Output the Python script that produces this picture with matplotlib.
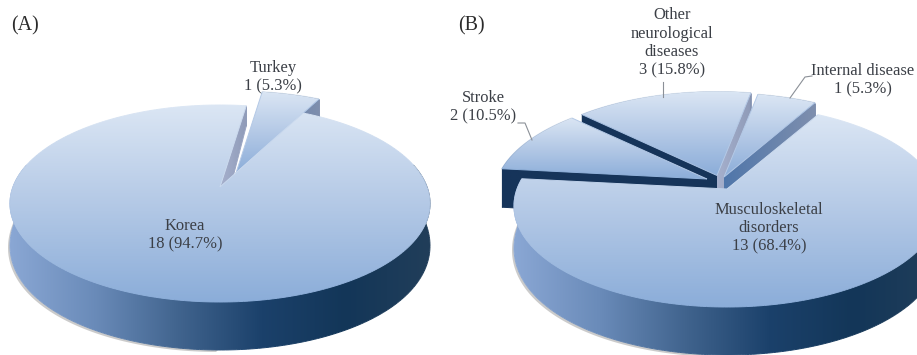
# -*- coding: utf-8 -*-
import numpy as np
import matplotlib
matplotlib.use("Agg")
import matplotlib.pyplot as plt
from matplotlib.collections import LineCollection
from matplotlib.colors import LinearSegmentedColormap
from matplotlib.patches import Polygon

# --- panel A: country ---
NOMES_A = ["Turkey", "Korea"]
CASOS_A = [1, 18]

# --- panel B: indication, clockwise from the slice at the back ---
NOMES_B = ["Other\nneurological\ndiseases", "Internal disease", "Musculoskeletal\ndisorders", "Stroke"]
CASOS_B = [3, 1, 13, 2]

# pulled-out distance of each slice on the page (px)
DESLOC_A = [(16, -14), (0, 0)]
DESLOC_B = [(-10, -13.5), (-3, -12), (0, 0), (-20, -10)]

# label centres (px)
POS_A = [(273, 77), (185, 235)]
POS_B = [(672, 43), (863, 80), (769, 228), (483, 107)]

# leader lines of panel B (px)
GUIAS_B = [
    [(663, 82), (663, 97)],
    [(812, 76), (805, 77), (790, 98)],
    [(518, 123), (525, 123), (532, 140)],
]

COR_TOPO = ["#dbe6f4", "#b4c9e6", "#8badd9"]
COR_LADO = ["#8aa7d4", "#6a8bb9", "#41648e", "#1b416b", "#133658", "#213e5a"]
COR_ESCURA = "#16345a"
COR_TEXTO = "#3b3f46"
COR_GUIA = "#8b9097"

plt.rcParams["font.family"] = ["Liberation Serif", "DejaVu Serif"]

cmap_topo = LinearSegmentedColormap.from_list("topo", COR_TOPO)
cmap_lado = LinearSegmentedColormap.from_list("lado", COR_LADO)

fig = plt.figure(figsize=(9.17, 3.55), dpi=100)
ax = fig.add_axes([0, 0, 1, 1])
ax.set_xlim(0, 917)
ax.set_ylim(355, 0)
ax.axis("off")


def profundidade(v):
    # side wall height grows towards the viewer
    return 40 + 14 * v - 6 * v ** 2


def degrade(pts, cmap, horizontal, limites, z):
    # gradient image clipped to a polygon, rim stroked so the clip edge stays smooth
    pts = np.array(pts)
    patch = Polygon(pts, closed=True, facecolor="none", edgecolor="none", zorder=z)
    ax.add_patch(patch)
    g = np.linspace(0, 1, 256)
    if horizontal:
        img = g[None, :]
        ext = [limites[0], limites[1], pts[:, 1].max(), pts[:, 1].min()]
    else:
        img = g[:, None]
        ext = [pts[:, 0].min(), pts[:, 0].max(), limites[1], limites[0]]
    im = ax.imshow(img, cmap=cmap, extent=ext, aspect="auto", zorder=z,
                   interpolation="bilinear", vmin=0, vmax=1)
    im.set_clip_path(patch)

    fechado = np.vstack([pts, pts[:1]])
    segs = np.stack([fechado[:-1], fechado[1:]], axis=1)
    eixo = 0 if horizontal else 1
    t = (segs[:, :, eixo].mean(axis=1) - limites[0]) / (limites[1] - limites[0])
    ax.add_collection(LineCollection(segs, colors=cmap(np.clip(t, 0, 1)), linewidths=0.7, zorder=z))

    ax.set_xlim(0, 917)
    ax.set_ylim(355, 0)


def cores_parede(phi):
    # colour of a cut face (apex end, rim end) from the way it faces
    phi = (phi + 180) % 360 - 180
    if phi < 0:
        return COR_ESCURA, COR_ESCURA
    if phi < 110:
        return "#a6b0cd", "#8f9bb8"
    return "#4f76aa", "#7f8fae"


def pizza(casos, inicio, desloc, cx, cy, topo, base, rx, ordem):
    f = base - cy
    g = cy - topo
    k = (g - f) / (g + f)
    a = f * (1 + k)
    b = rx * np.sqrt(1 - k ** 2)

    def proj(phi, d):
        # phi in degrees clockwise from the back of the disc
        u = np.sin(np.radians(phi))
        v = -np.cos(np.radians(phi))
        den = 1 + k * v
        return np.column_stack([cx + b * u / den + d[0], cy + a * v / den + d[1]]), v

    angulos = inicio + np.concatenate([[0], np.cumsum(casos)]) * 360.0 / sum(casos)
    z = 1
    fatias = []
    for i in range(len(casos)):
        fatias.append((angulos[i], angulos[i + 1], desloc[i]))

    # outer walls, then cut faces, and the flat tops go over them
    for i in ordem:
        ini, fim, d = fatias[i]
        phis = np.linspace(ini, fim, 400)
        aro, v = proj(phis, d)
        apice = np.array([cx + d[0], cy + d[1]])
        baixo = aro + np.column_stack([np.zeros(len(v)), profundidade(v)])
        if ini < 180 < fim:
            # only the part of the wall that faces the viewer
            vis = v > -0.25
            lado = np.vstack([aro[vis], baixo[vis][::-1]])
            # soft grey shadow under the lower left of the wall
            frente = (phis > 180) & (phis < 275)
            sombra = np.vstack([baixo[frente] + [-2, 2], baixo[frente][::-1]])
            ax.add_patch(Polygon(sombra, closed=True, facecolor="#8d8d8d", alpha=0.45,
                                 edgecolor="none", zorder=z))
            z += 1
            degrade(lado, cmap_lado, True, [cx - rx, cx + rx], z)
        else:
            lado = np.vstack([aro, baixo[::-1]])
            ax.add_patch(Polygon(lado, closed=True, facecolor=COR_ESCURA, edgecolor="none", zorder=z))
        z += 1
        for phi, normal in ((ini, ini - 90), (fim, fim + 90)):
            if -np.cos(np.radians(normal)) <= 0:
                continue
            canto, vc = proj(np.array([phi]), d)
            canto = canto[0]
            h = profundidade(vc[0])
            pts = [apice, canto, canto + [0, h], apice + [0, profundidade(0)]]
            c_apice, c_canto = cores_parede(normal)
            cm = LinearSegmentedColormap.from_list("parede", [c_apice, c_canto] if canto[0] > apice[0] else [c_canto, c_apice])
            degrade(pts, cm, True, sorted([apice[0], canto[0]]), z)
            z += 1

    for i in ordem:
        ini, fim, d = fatias[i]
        phis = np.linspace(ini, fim, 300)
        aro, v = proj(phis, d)
        apice = np.array([[cx + d[0], cy + d[1]]])
        pts = np.vstack([apice, aro])
        degrade(pts, cmap_topo, False, [pts[:, 1].min(), pts[:, 1].max()], 50 + z)
        z += 1


pizza(CASOS_A, 8.5, DESLOC_A, 220, 187, 105, 302, 210, [0, 1])
pizza(CASOS_B, -46, DESLOC_B, 727, 189, 105, 307, 213, [0, 1, 3, 2])

# labels with count and percentage
for nomes, casos, posicoes in ((NOMES_A, CASOS_A, POS_A), (NOMES_B, CASOS_B, POS_B)):
    total = sum(casos)
    for nome, n, (x, y) in zip(nomes, casos, posicoes):
        ax.text(x, y, f"{nome}\n{n} ({100 * n / total:.1f}%)", ha="center", va="center",
                fontsize=11.9, color=COR_TEXTO, linespacing=1.2, zorder=200)

for guia in GUIAS_B:
    xs, ys = zip(*guia)
    ax.plot(xs, ys, color=COR_GUIA, lw=0.8, zorder=150)

ax.text(11, 26, "(A)", fontsize=14.4, color="#2b2b2b", va="center", zorder=200)
ax.text(458, 26, "(B)", fontsize=14.4, color="#2b2b2b", va="center", zorder=200)

fig.savefig("out.png", dpi=100)
